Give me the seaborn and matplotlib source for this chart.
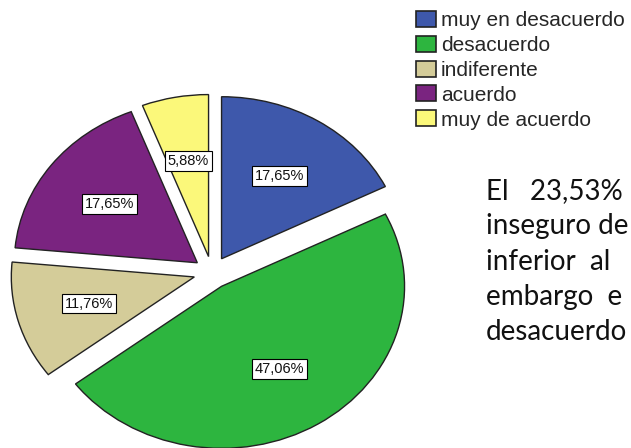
import matplotlib
matplotlib.use("Agg")
import matplotlib.pyplot as plt
import seaborn as sns

# respuestas (n = 17)
categorias = ["muy en desacuerdo", "desacuerdo", "indiferente", "acuerdo", "muy de acuerdo"]
frecuencias = [3, 8, 2, 3, 1]
colores = ["#3e58ab", "#2db53f", "#d4cc99", "#7a2480", "#fbf87a"]
parrafo = ["El   23,53%", "inseguro de", "inferior  al", "embargo  e", "desacuerdo"]

sns.set_style("white")
plt.rcParams["font.family"] = ["Liberation Sans", "DejaVu Sans"]

fig = plt.figure(figsize=(6.31, 4.48), dpi=100)
ax = fig.add_axes([0, 0, 1, 1])

def pct(p):
    return f"{p:.2f}%".replace(".", ",")

wedges, texts, autotexts = ax.pie(
    frecuencias,
    colors=colores,
    explode=[0.1] * len(frecuencias),
    startangle=90,
    counterclock=False,
    autopct=pct,
    pctdistance=0.6,
    wedgeprops=dict(edgecolor="#222222", linewidth=1),
    textprops=dict(fontsize=10.5, color="#111111"),
)
for t in autotexts:
    t.set_bbox(dict(boxstyle="square,pad=0.2", fc="white", ec="black", lw=0.8))

# pie drawn slightly wider than tall, as in the original export
ax.set_aspect("auto")
ax.set_xlim(-1.158, 2.290)
ax.set_ylim(-1.083, 1.682)
ax.axis("off")

leg = fig.legend(
    wedges, categorias,
    loc="upper left", bbox_to_anchor=(416 / 631, 1 - 11 / 448),
    frameon=False, fontsize=15,
    handlelength=0.95, handleheight=0.8, handletextpad=0.25,
    labelspacing=0.27, borderaxespad=0, borderpad=0,
)
for h in leg.legend_handles:
    h.set_edgecolor("#222222")
    h.set_linewidth(1.2)

for i, linea in enumerate(parrafo):
    fig.text(486 / 631, 1 - (199 + 35.25 * i) / 448, linea, fontsize=20,
             family=["Lato", "DejaVu Sans"], va="baseline", ha="left", color="#111111")

fig.savefig("out.png", dpi=100)
